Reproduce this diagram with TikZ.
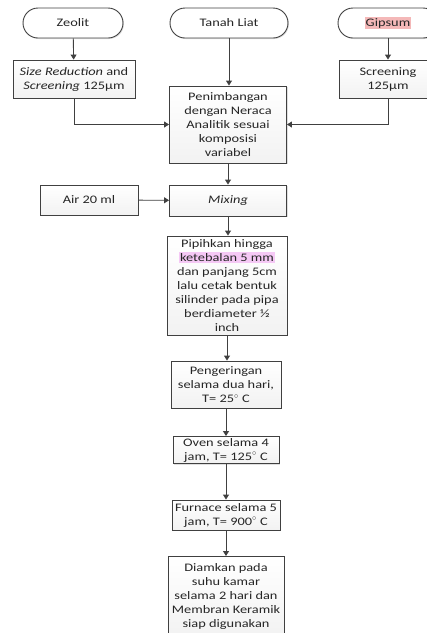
\documentclass[tikz,border=0pt]{standalone}
\usepackage{fontspec}
\setmainfont{Carlito}[FakeStretch=1.25]
\usepackage{xcolor}
\usetikzlibrary{calc,arrows.meta,shadows}

\definecolor{garis}{HTML}{404040}
\definecolor{isi}{HTML}{F2F2F2}
\definecolor{pinkgip}{HTML}{F4B8B8}
\definecolor{ungutebal}{HTML}{F5C8F5}

\tikzset{
    kotak/.style={rectangle,draw=garis,line width=0.9pt,top color=white,bottom color=isi,
        drop shadow={shadow xshift=1pt,shadow yshift=-1pt,opacity=0.25},
        align=center,inner sep=1pt,text=black!85,font=\fontsize{11.5}{14}\selectfont},
    mulai/.style={kotak,rounded corners=15pt,fill=white,top color=white,bottom color=white},
    panah/.style={draw=garis,line width=0.9pt,-{Triangle[length=5pt,width=6pt]}},
}
\setlength{\fboxsep}{1pt}

\begin{document}
\begin{tikzpicture}[x=1pt,y=-1pt]
            \useasboundingbox (0,0) rectangle (427,633);

            \node[mulai,minimum width=100pt,minimum height=30pt] (zeolit) at (73,23) {Zeolit};
            \node[mulai,minimum width=118pt,minimum height=30pt] (tanah) at (229,23) {Tanah Liat};
            \node[mulai,minimum width=100pt,minimum height=30pt] (gipsum) at (388,23) {\colorbox{pinkgip}{Gipsum}};

            \node[kotak,minimum width=122pt,minimum height=38pt] (size) at (74,79) {\textit{Size Reduction} and\\\textit{Screening} 125µm};
            \node[kotak,minimum width=98pt,minimum height=38pt] (screen) at (388,79) {Screening\\125µm};

            \node[kotak,minimum width=117pt,minimum height=77pt] (timbang) at (228,124.5) {Penimbangan\\dengan Neraca\\Analitik sesuai\\komposisi\\variabel};
            \node[kotak,minimum width=98pt,minimum height=30pt] (air) at (89,200) {Air 20 ml};
            \node[kotak,minimum width=117pt,minimum height=31pt] (mixing) at (228,200.5) {\textit{Mixing}};

            \node[kotak,minimum width=120pt,minimum height=99pt] (pipih) at (227,285.5) {Pipihkan hingga\\\colorbox{ungutebal}{ketebalan 5 mm}\\dan panjang 5cm\\lalu cetak bentuk\\silinder pada pipa\\berdiameter ½\\inch};
            \node[kotak,minimum width=110pt,minimum height=47pt] (kering) at (226,384.5) {Pengeringan\\selama dua hari,\\T= 25$^{\circ}$ C};
            \node[kotak,minimum width=106pt,minimum height=27pt] (oven) at (226,450) {Oven selama 4\\jam, T= 125$^{\circ}$ C};
            \node[kotak,minimum width=108pt,minimum height=30pt] (furnace) at (226,515) {Furnace selama 5\\jam, T= 900$^{\circ}$ C};
            \node[kotak,minimum width=116pt,minimum height=80pt,anchor=north] (diam) at (226,556) {Diamkan pada\\suhu kamar\\selama 2 hari dan\\Membran Keramik\\siap digunakan};

            % alur bahan baku
            \draw[panah] (zeolit) -- (size);
            \draw[panah] (gipsum) -- (screen);
            \draw[panah] (tanah.south) -- (tanah.south |- timbang.north);
            \draw[panah] (size.south) |- (timbang.west);
            \draw[panah] (screen.south) |- (timbang.east);

            % alur proses
            \draw[panah] (timbang) -- (mixing);
            \draw[panah] (air) -- (mixing);
            \draw[panah] (mixing.south) -- (mixing.south |- pipih.north);
            \draw[panah] (pipih.south) -- (pipih.south |- kering.north);
            \draw[panah] (kering.south) -- (kering.south |- oven.north);
            \draw[panah] (oven.south) -- (oven.south |- furnace.north);
            \draw[panah] (furnace.south) -- (furnace.south |- diam.north);

        \end{tikzpicture}
\end{document}
